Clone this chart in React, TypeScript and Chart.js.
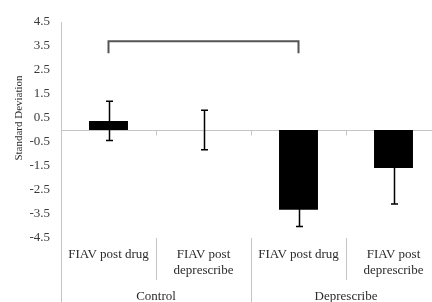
import React, { useEffect, useRef } from "react";
import { Chart, registerables } from "chart.js";

Chart.register(...registerables);

// ---- data ----
const categories: string[][] = [
  ["FIAV post drug"],
  ["FIAV post", "deprescribe"],
  ["FIAV post drug"],
  ["FIAV post", "deprescribe"],
];
const values: number[] = [0.38, 0.0, -3.32, -1.58];
const errors: number[] = [0.82, 0.82, 0.7, 1.5];
const groupLabels: string[] = ["Control", "Deprescribe"];
const groupSizes: number[] = [2, 2];
const yMin = -4.5;
const yMax = 4.5;
const yStep = 1;
const yTitle = "Standard Deviation";
const bracketFrom = 0;
const bracketTo = 2;
const bracketTop = 3.7;
const bracketLeg = 3.2;

const FONT = "'Liberation Serif', 'Times New Roman', serif";
const AXIS_GRAY = "#c4c4c4";
const TEXT = "#2b2b2b";

const customPlugin = {
  id: "customDraw",
  beforeDatasetsDraw(chart: any) {
    const { ctx, chartArea, scales } = chart;
    const x = scales.x;
    const y = scales.y;
    const y0 = Math.round(y.getPixelForValue(0)) + 0.5;
    const n = categories.length;
    ctx.save();
    ctx.strokeStyle = AXIS_GRAY;
    ctx.lineWidth = 1;
    ctx.beginPath();
    ctx.moveTo(chartArea.left, y0);
    ctx.lineTo(chartArea.right, y0);
    for (let i = 1; i <= n; i++) {
      const bx =
        i < n
          ? (x.getPixelForValue(i - 1) + x.getPixelForValue(i)) / 2
          : chartArea.right;
      const rx = Math.round(bx) + 0.5;
      ctx.moveTo(rx, y0);
      ctx.lineTo(rx, y0 + 5);
    }
    ctx.stroke();
    ctx.restore();
  },
  afterDatasetsDraw(chart: any) {
    const { ctx, scales } = chart;
    const x = scales.x;
    const y = scales.y;
    ctx.save();
    // error bars
    ctx.strokeStyle = "#000";
    ctx.lineWidth = 1.5;
    values.forEach((v, i) => {
      const px = Math.round(x.getPixelForValue(i)) + 0.5;
      const yt = y.getPixelForValue(v + errors[i]);
      const yb = y.getPixelForValue(v - errors[i]);
      ctx.beginPath();
      ctx.moveTo(px, yt);
      ctx.lineTo(px, yb);
      ctx.moveTo(px - 3.5, yt);
      ctx.lineTo(px + 3.5, yt);
      ctx.moveTo(px - 3.5, yb);
      ctx.lineTo(px + 3.5, yb);
      ctx.stroke();
    });
    // significance bracket
    const bx1 = x.getPixelForValue(bracketFrom);
    const bx2 = x.getPixelForValue(bracketTo);
    const byTop = y.getPixelForValue(bracketTop);
    const byLeg = y.getPixelForValue(bracketLeg);
    ctx.strokeStyle = "#555555";
    ctx.lineWidth = 2;
    ctx.beginPath();
    ctx.moveTo(bx1, byLeg);
    ctx.lineTo(bx1, byTop);
    ctx.lineTo(bx2, byTop);
    ctx.lineTo(bx2, byLeg);
    ctx.stroke();
    ctx.restore();
  },
  afterDraw(chart: any) {
    const { ctx, chartArea, scales, height } = chart;
    const x = scales.x;
    const bottom = chartArea.bottom;
    const n = categories.length;
    ctx.save();
    // y axis extension & separators
    ctx.strokeStyle = AXIS_GRAY;
    ctx.lineWidth = 1;
    ctx.beginPath();
    const lx = Math.round(chartArea.left) + 0.5;
    ctx.moveTo(lx, bottom);
    ctx.lineTo(lx, height);
    let groupEnds = new Set<number>();
    let acc = 0;
    groupSizes.forEach((s) => {
      acc += s;
      groupEnds.add(acc);
    });
    for (let i = 1; i <= n; i++) {
      const bx =
        i < n
          ? (x.getPixelForValue(i - 1) + x.getPixelForValue(i)) / 2
          : chartArea.right;
      const rx = Math.round(bx) + 0.5;
      ctx.moveTo(rx, bottom);
      ctx.lineTo(rx, groupEnds.has(i) ? height : bottom + 42);
    }
    ctx.stroke();

    // category labels
    ctx.fillStyle = TEXT;
    ctx.font = `13px ${FONT}`;
    ctx.textAlign = "center";
    ctx.textBaseline = "middle";
    categories.forEach((lines, i) => {
      const px = x.getPixelForValue(i);
      lines.forEach((ln, j) => {
        ctx.fillText(ln, px, bottom + 17 + j * 16);
      });
    });
    // group labels
    let start = 0;
    groupLabels.forEach((g, gi) => {
      const end = start + groupSizes[gi] - 1;
      const cx = (x.getPixelForValue(start) + x.getPixelForValue(end)) / 2;
      ctx.fillText(g, cx, bottom + 59);
      start = end + 1;
    });
    // y title
    ctx.font = `11px ${FONT}`;
    ctx.translate(19, 118);
    ctx.rotate(-Math.PI / 2);
    ctx.fillText(yTitle, 0, 0);
    ctx.restore();
  },
};

export default function App() {
  const ref = useRef<HTMLCanvasElement | null>(null);
  useEffect(() => {
    if (!ref.current) return;
    const chart = new Chart(ref.current, {
      type: "bar",
      data: {
        labels: categories.map((c) => c.join(" ")),
        datasets: [
          {
            data: values,
            backgroundColor: "#000000",
            borderWidth: 0,
            barPercentage: 0.41,
            categoryPercentage: 1,
          },
        ],
      },
      options: {
        animation: false,
        responsive: false,
        devicePixelRatio: 1,
        layout: { padding: { top: 22, bottom: 72, right: 4, left: 0 } },
        plugins: {
          legend: { display: false },
          tooltip: { enabled: false },
        },
        scales: {
          x: {
            display: false,
          },
          y: {
            min: yMin,
            max: yMax,
            afterFit: (s: any) => {
              s.width = 61;
            },
            ticks: {
              stepSize: yStep,
              padding: 11,
              color: "#3a3a3a",
              font: { family: FONT, size: 13 },
            },
            grid: { display: false, drawTicks: false },
            border: { display: true, color: AXIS_GRAY, width: 1 },
          },
        },
      },
      plugins: [customPlugin],
    });
    return () => chart.destroy();
  }, []);
  return (
    <div
      style={{
        position: "fixed",
        left: 0,
        top: 0,
        width: 432,
        height: 302,
        overflow: "hidden",
        background: "#fff",
      }}
    >
      <canvas ref={ref} width={445} height={310} style={{ display: "block" }} />
    </div>
  );
}
